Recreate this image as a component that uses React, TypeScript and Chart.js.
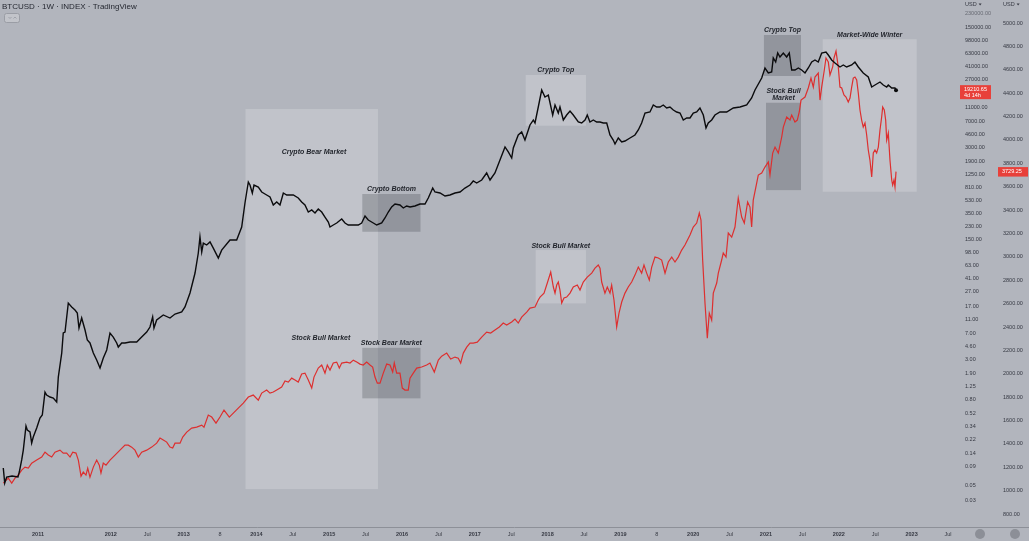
import React, { useEffect, useRef } from "react";
import { Chart, registerables } from "chart.js";

Chart.register(...registerables);

// ---------- data (decimal years, weekly closes) ----------
const btcYears = [
  2010.523, 2010.543, 2010.570, 2010.643, 2010.725, 2010.743, 2010.776, 2010.798, 2010.835, 2010.853,
  2010.890, 2010.913, 2010.935, 2010.982, 2011.027, 2011.059, 2011.096, 2011.119, 2011.165, 2011.210,
  2011.257, 2011.279, 2011.326, 2011.347, 2011.371, 2011.416, 2011.463, 2011.508, 2011.540, 2011.563,
  2011.600, 2011.646, 2011.677, 2011.714, 2011.760, 2011.806, 2011.852, 2011.897, 2011.944, 2011.989,
  2012.034, 2012.081, 2012.103, 2012.150, 2012.195, 2012.264, 2012.356, 2012.424, 2012.493, 2012.538,
  2012.575, 2012.593, 2012.630, 2012.721, 2012.813, 2012.882, 2012.974, 2013.019, 2013.088, 2013.157,
  2013.202, 2013.225, 2013.249, 2013.271, 2013.317, 2013.363, 2013.408, 2013.477, 2013.523, 2013.637,
  2013.729, 2013.798, 2013.843, 2013.889, 2013.912, 2013.944, 2013.967, 2014.026, 2014.073, 2014.141,
  2014.187, 2014.232, 2014.279, 2014.324, 2014.370, 2014.416, 2014.507, 2014.575, 2014.622, 2014.667,
  2014.713, 2014.760, 2014.805, 2014.850, 2014.897, 2014.942, 2014.988, 2015.011, 2015.056, 2015.103,
  2015.172, 2015.217, 2015.262, 2015.331, 2015.400, 2015.446, 2015.492, 2015.537, 2015.606, 2015.652,
  2015.721, 2015.766, 2015.812, 2015.858, 2015.904, 2015.972, 2016.018, 2016.064, 2016.110, 2016.178,
  2016.247, 2016.316, 2016.361, 2016.422, 2016.453, 2016.522, 2016.591, 2016.659, 2016.728, 2016.797,
  2016.865, 2016.934, 2016.979, 2017.026, 2017.095, 2017.163, 2017.209, 2017.277, 2017.346, 2017.415,
  2017.460, 2017.507, 2017.529, 2017.597, 2017.644, 2017.689, 2017.758, 2017.804, 2017.827, 2017.872,
  2017.919, 2017.964, 2018.010, 2018.070, 2018.102, 2018.147, 2018.170, 2018.216, 2018.262, 2018.308,
  2018.353, 2018.422, 2018.468, 2018.514, 2018.545, 2018.582, 2018.628, 2018.674, 2018.720, 2018.765,
  2018.812, 2018.857, 2018.902, 2018.926, 2018.971, 2019.018, 2019.063, 2019.132, 2019.200, 2019.246,
  2019.292, 2019.338, 2019.406, 2019.452, 2019.498, 2019.544, 2019.589, 2019.636, 2019.681, 2019.727,
  2019.773, 2019.819, 2019.864, 2019.911, 2019.956, 2020.001, 2020.048, 2020.093, 2020.139, 2020.176,
  2020.207, 2020.254, 2020.299, 2020.368, 2020.460, 2020.551, 2020.643, 2020.735, 2020.803, 2020.849,
  2020.941, 2020.986, 2021.032, 2021.078, 2021.100, 2021.133, 2021.161, 2021.192, 2021.238, 2021.284,
  2021.320, 2021.339, 2021.353, 2021.398, 2021.444, 2021.490, 2021.536, 2021.581, 2021.628, 2021.673,
  2021.718, 2021.765, 2021.824, 2021.856, 2021.902, 2021.948, 2022.016, 2022.062, 2022.108, 2022.177,
  2022.222, 2022.268, 2022.336, 2022.405, 2022.452, 2022.497, 2022.566, 2022.611, 2022.658, 2022.680,
  2022.727, 2022.772, 2022.786,
];
const btcPrices = [
  0.0869, 0.0533, 0.0648, 0.067, 0.0648, 0.0763, 0.113, 0.156, 0.341, 0.3,
  0.281, 0.196, 0.239, 0.32, 0.443, 0.489, 1.03, 0.937, 0.878, 0.85,
  0.746, 1.68, 3.68, 7.06, 7.29, 18.7, 16.5, 14.9, 13.5, 8.3,
  11.5, 7.78, 5.62, 5.1, 3.68, 2.93, 2.26, 3.13, 4.06, 7.06,
  6.19, 5.1, 4.47, 5.1, 5.1, 5.26, 5.26, 6.19, 7.29, 8.58,
  11.9, 8.3, 10.8, 12.7, 11.5, 13.1, 14.0, 16.5, 26.0, 49.8,
  95.5, 161, 98.7, 132, 124, 137, 112, 81.2, 105, 146,
  146, 223, 487, 965, 875, 674, 875, 820, 697, 632,
  592, 456, 503, 456, 674, 632, 632, 573, 503, 456,
  363, 388, 351, 401, 363, 308, 262, 223, 238, 254,
  289, 254, 238, 238, 238, 254, 319, 280, 254, 238,
  254, 299, 363, 428, 471, 456, 414, 442, 428, 442,
  471, 471, 573, 793, 697, 674, 611, 632, 674, 697,
  793, 875, 997, 934, 1030, 1294, 1030, 1294, 1977, 3019,
  2565, 2109, 2920, 4460, 4918, 3790, 6180, 7270, 6590, 11100,
  19310, 15380, 16410, 8550, 11850, 9130, 11100, 7270, 8550, 9750,
  8550, 6810, 6590, 7270, 8550, 6810, 7270, 6810, 6810, 6590,
  6590, 4460, 3790, 3327, 4046, 3550, 3667, 4046, 4460, 5250,
  6590, 9130, 9430, 11850, 11100, 11100, 11850, 10750, 11100, 10070,
  9430, 9130, 7270, 7760, 7760, 9130, 9430, 10750, 8550, 5600,
  6590, 7270, 8550, 9430, 9430, 10750, 11100, 11850, 14890, 19310,
  28520, 39540, 33590, 34690, 54750, 48080, 64430, 56550, 64430, 56550,
  64430, 46540, 37040, 37040, 39540, 37040, 33590, 39540, 48080, 51300,
  48080, 64430, 66550, 60370, 51300, 46540, 40850, 43600, 40850, 43600,
  48080, 40850, 33590, 29480, 21290, 22720, 25050, 22720, 21290, 22720,
  20600, 20600, 19210.65,
];

const spxYears = [
  2010.523, 2010.592, 2010.639, 2010.684, 2010.729, 2010.776, 2010.821, 2010.867, 2010.913, 2010.982,
  2011.051, 2011.096, 2011.141, 2011.188, 2011.233, 2011.302, 2011.347, 2011.394, 2011.440, 2011.477,
  2011.522, 2011.554, 2011.591, 2011.622, 2011.659, 2011.683, 2011.714, 2011.760, 2011.806, 2011.842,
  2011.865, 2011.897, 2011.934, 2011.989, 2012.058, 2012.126, 2012.195, 2012.240, 2012.287, 2012.332,
  2012.378, 2012.424, 2012.493, 2012.562, 2012.630, 2012.676, 2012.721, 2012.768, 2012.813, 2012.850,
  2012.882, 2012.951, 2012.988, 2013.043, 2013.111, 2013.180, 2013.249, 2013.280, 2013.339, 2013.386,
  2013.445, 2013.500, 2013.555, 2013.628, 2013.683, 2013.751, 2013.820, 2013.889, 2013.957, 2014.026,
  2014.073, 2014.141, 2014.187, 2014.232, 2014.279, 2014.347, 2014.393, 2014.438, 2014.485, 2014.530,
  2014.575, 2014.622, 2014.667, 2014.713, 2014.760, 2014.791, 2014.850, 2014.897, 2014.942, 2014.974,
  2015.011, 2015.056, 2015.103, 2015.139, 2015.172, 2015.240, 2015.286, 2015.331, 2015.378, 2015.423,
  2015.468, 2015.515, 2015.560, 2015.597, 2015.629, 2015.661, 2015.698, 2015.743, 2015.790, 2015.835,
  2015.872, 2015.894, 2015.927, 2015.972, 2016.004, 2016.041, 2016.086, 2016.110, 2016.155, 2016.202,
  2016.270, 2016.339, 2016.384, 2016.444, 2016.499, 2016.545, 2016.614, 2016.669, 2016.728, 2016.773,
  2016.806, 2016.842, 2016.889, 2016.934, 2016.979, 2017.034, 2017.095, 2017.163, 2017.218, 2017.277,
  2017.337, 2017.391, 2017.438, 2017.507, 2017.552, 2017.597, 2017.644, 2017.713, 2017.758, 2017.827,
  2017.872, 2017.896, 2017.951, 2017.996, 2018.043, 2018.079, 2018.102, 2018.125, 2018.147, 2018.170,
  2018.194, 2018.225, 2018.262, 2018.308, 2018.353, 2018.408, 2018.445, 2018.490, 2018.545, 2018.606,
  2018.651, 2018.696, 2018.720, 2018.743, 2018.788, 2018.820, 2018.857, 2018.880, 2018.912, 2018.949,
  2018.981, 2019.018, 2019.063, 2019.108, 2019.155, 2019.200, 2019.246, 2019.292, 2019.324, 2019.361,
  2019.397, 2019.430, 2019.475, 2019.521, 2019.567, 2019.613, 2019.658, 2019.705, 2019.750, 2019.795,
  2019.842, 2019.887, 2019.956, 2020.001, 2020.048, 2020.084, 2020.107, 2020.130, 2020.162, 2020.194,
  2020.221, 2020.254, 2020.276, 2020.323, 2020.345, 2020.391, 2020.413, 2020.451, 2020.482, 2020.529,
  2020.574, 2020.619, 2020.666, 2020.702, 2020.748, 2020.780, 2020.803, 2020.825, 2020.872, 2020.894,
  2020.941, 2020.986, 2021.032, 2021.055, 2021.092, 2021.124, 2021.169, 2021.216, 2021.238, 2021.284,
  2021.330, 2021.353, 2021.398, 2021.430, 2021.457, 2021.481, 2021.536, 2021.581, 2021.618, 2021.650,
  2021.673, 2021.718, 2021.742, 2021.765, 2021.797, 2021.824, 2021.856, 2021.879, 2021.916, 2021.934,
  2021.962, 2021.993, 2022.016, 2022.040, 2022.071, 2022.099, 2022.130, 2022.154, 2022.177, 2022.199,
  2022.222, 2022.246, 2022.268, 2022.291, 2022.314, 2022.336, 2022.360, 2022.383, 2022.405, 2022.428,
  2022.452, 2022.474, 2022.497, 2022.520, 2022.543, 2022.566, 2022.589, 2022.603, 2022.625, 2022.644,
  2022.658, 2022.680, 2022.703, 2022.727, 2022.740, 2022.758, 2022.772, 2022.786,
];
const spxPrices = [
  1065, 1108, 1065, 1108, 1134, 1176, 1202, 1193, 1236, 1262,
  1288, 1330, 1305, 1288, 1330, 1347, 1322, 1322, 1288, 1330,
  1322, 1262, 1125, 1159, 1134, 1193, 1116, 1202, 1262, 1219,
  1151, 1236, 1219, 1262, 1305, 1347, 1390, 1390, 1373, 1347,
  1288, 1330, 1347, 1373, 1407, 1450, 1433, 1416, 1373, 1365,
  1407, 1407, 1459, 1501, 1536, 1544, 1561, 1544, 1647, 1630,
  1578, 1630, 1690, 1630, 1664, 1707, 1749, 1801, 1818, 1775,
  1835, 1861, 1835, 1844, 1861, 1886, 1938, 1929, 1963, 1946,
  1929, 1998, 2006, 1946, 1878, 1972, 2049, 2075, 2006, 2075,
  2032, 2092, 2100, 2049, 2092, 2100, 2092, 2117, 2100, 2083,
  2075, 2100, 2075, 2058, 1972, 1920, 1920, 2006, 2083, 2075,
  2015, 2092, 2006, 2006, 1878, 1861, 1861, 1963, 2006, 2049,
  2058, 2075, 2092, 2015, 2117, 2151, 2177, 2126, 2143, 2134,
  2092, 2177, 2228, 2263, 2263, 2271, 2314, 2357, 2348, 2374,
  2400, 2434, 2417, 2443, 2468, 2434, 2485, 2528, 2562, 2571,
  2631, 2656, 2690, 2776, 2870, 2742, 2690, 2759, 2785, 2716,
  2605, 2648, 2656, 2690, 2742, 2759, 2716, 2785, 2827, 2861,
  2904, 2930, 2904, 2785, 2690, 2742, 2690, 2759, 2631, 2400,
  2519, 2614, 2690, 2742, 2785, 2844, 2913, 2861, 2930, 2861,
  2802, 2913, 2998, 2990, 2973, 2861, 2956, 2998, 2956, 2998,
  3058, 3101, 3187, 3255, 3289, 3375, 3315, 2973, 2605, 2305,
  2519, 2459, 2690, 2776, 2861, 2973, 3033, 2998, 3204, 3169,
  3255, 3503, 3340, 3289, 3469, 3426, 3255, 3486, 3631, 3700,
  3717, 3768, 3811, 3700, 3888, 3939, 3888, 4025, 4110, 4196,
  4170, 4213, 4153, 4170, 4239, 4341, 4367, 4444, 4529, 4452,
  4538, 4572, 4341, 4452, 4581, 4701, 4666, 4555, 4624, 4701,
  4760, 4624, 4452, 4444, 4384, 4367, 4324, 4358, 4452, 4529,
  4538, 4512, 4401, 4256, 4170, 4110, 4145, 4042, 3914, 3828,
  3683, 3888, 3914, 3888, 3939, 4085, 4196, 4281, 4256, 4170,
  3999, 4059, 3828, 3657, 3614, 3657, 3597, 3729.25,
];

const btcTickValues = [
  230000, 150000, 98000, 63000, 41000, 27000, 11000, 7000, 4600, 3000, 1900, 1250, 810, 530, 350, 230,
  150, 98, 63, 41, 27, 17, 11, 7, 4.6, 3, 1.9, 1.25, 0.8, 0.52, 0.34, 0.22, 0.14, 0.09, 0.05, 0.03,
];
const spxTickValues = [
  5000, 4800, 4600, 4400, 4200, 4000, 3800, 3600, 3400, 3200, 3000, 2800, 2600, 2400, 2200, 2000,
  1800, 1600, 1400, 1200, 1000, 800,
];
const timeTickValues = [
  2011, 2012, 2012.5, 2013, 2013.5, 2014, 2014.5, 2015, 2015.5, 2016, 2016.5, 2017, 2017.5,
  2018, 2018.5, 2019, 2019.5, 2020, 2020.5, 2021, 2021.5, 2022, 2022.5, 2023, 2023.5,
];
const timeTickLabels = [
  "2011", "2012", "Jul", "2013", "8", "2014", "Jul", "2015", "Jul", "2016", "Jul", "2017", "Jul",
  "2018", "Jul", "2019", "8", "2020", "Jul", "2021", "Jul", "2022", "Jul", "2023", "Jul",
];
const btcCountdown = "4d 14h";
const titleText = "BTCUSD · 1W · INDEX · TradingView";

// ---------- annotation zones (data coordinates) ----------
type Zone = { from: number; to: number; axis: "btc" | "spx"; high: number; low: number; tone: "light" | "dark"; label: string[] };
const zones: Zone[] = [
  { from: 2013.85, to: 2015.67, axis: "spx", high: 4264, low: 1014, tone: "light", label: [] },
  { from: 2015.455, to: 2016.254, axis: "btc", high: 653, low: 191, tone: "dark", label: ["Crypto Bottom"] },
  { from: 2015.455, to: 2016.254, axis: "spx", high: 2222, low: 1790, tone: "dark", label: ["Stock Bear Market"] },
  { from: 2017.699, to: 2018.527, axis: "btc", high: 31480, low: 6040, tone: "light", label: ["Crypto Top"] },
  { from: 2017.836, to: 2018.527, axis: "spx", high: 3058, low: 2602, tone: "light", label: ["Stock Bull Market"] },
  { from: 2020.972, to: 2021.481, axis: "btc", high: 115800, low: 30460, tone: "dark", label: ["Crypto Top"] },
  { from: 2021.0, to: 2021.481, axis: "spx", high: 4318, low: 3571, tone: "dark", label: ["Stock Bull", "Market"] },
  { from: 2021.779, to: 2023.07, axis: "spx", high: 4861, low: 3557, tone: "light", label: ["Market-Wide Winter"] },
];
const freeLabels = [
  { text: "Crypto Bear Market", at: 2014.791, axis: "btc", value: 2565 },
  { text: "Stock Bull Market", at: 2014.887, axis: "spx", value: 2305 },
];

const BG = "#b2b5bd";
const TEXT = "#363943";
const FONT = '"Liberation Sans", Arial, sans-serif';
const RED = "#dd2f2f";

const overlayPlugin = {
  id: "overlay",
  beforeDatasetsDraw(chart: any) {
    const { ctx, scales } = chart;
    const xs = scales.x;
    ctx.save();
    for (const z of zones) {
      const ys = z.axis === "btc" ? scales.yBtc : scales.ySpx;
      const l = xs.getPixelForValue(z.from);
      const r = xs.getPixelForValue(z.to);
      const t = ys.getPixelForValue(z.high);
      const b = ys.getPixelForValue(z.low);
      ctx.fillStyle = z.tone === "light" ? "rgba(255,255,255,0.2)" : "rgba(60,62,70,0.27)";
      ctx.fillRect(l, t, r - l, b - t);
    }
    ctx.font = `italic bold 7px ${FONT}`;
    ctx.fillStyle = "#1f2229";
    ctx.textAlign = "center";
    ctx.textBaseline = "middle";
    for (const z of zones) {
      if (!z.label.length) continue;
      const ys = z.axis === "btc" ? scales.yBtc : scales.ySpx;
      const cx = (xs.getPixelForValue(z.from) + xs.getPixelForValue(z.to)) / 2;
      const t = ys.getPixelForValue(z.high);
      const n = z.label.length;
      z.label.forEach((line, i) => {
        ctx.fillText(line, cx, t - 4.5 - (n - 1 - i) * 7);
      });
    }
    for (const f of freeLabels) {
      const ys = f.axis === "btc" ? scales.yBtc : scales.ySpx;
      ctx.fillText(f.text, xs.getPixelForValue(f.at), ys.getPixelForValue(f.value));
    }
    ctx.restore();
  },
  afterDraw(chart: any) {
    const { ctx, scales, chartArea, width } = chart;
    ctx.save();
    // bottom separator
    ctx.strokeStyle = "#8d9098";
    ctx.lineWidth = 1;
    ctx.beginPath();
    ctx.moveTo(0, chartArea.bottom + 0.5);
    ctx.lineTo(width, chartArea.bottom + 0.5);
    ctx.stroke();

    // title
    ctx.font = `8px ${FONT}`;
    ctx.fillStyle = "#262932";
    ctx.textAlign = "left";
    ctx.textBaseline = "middle";
    ctx.fillText(titleText, 2, 7);

    // small toggle button
    ctx.fillStyle = "#c2c4ca";
    ctx.strokeStyle = "#9a9da5";
    ctx.beginPath();
    (ctx as any).roundRect(4.5, 13.5, 15, 9, 2);
    ctx.fill();
    ctx.stroke();
    ctx.strokeStyle = "#9fa2aa";
    ctx.beginPath();
    ctx.moveTo(8.5, 17);
    ctx.lineTo(10, 18.5);
    ctx.lineTo(11.5, 17);
    ctx.moveTo(13.5, 18.5);
    ctx.lineTo(15, 17);
    ctx.lineTo(16.5, 18.5);
    ctx.stroke();

    // currency labels
    ctx.font = `5.5px ${FONT}`;
    ctx.fillStyle = TEXT;
    const usd = (x: number) => {
      ctx.fillText("USD", x, 4.5);
      const w = ctx.measureText("USD").width;
      ctx.beginPath();
      ctx.moveTo(x + w + 2, 3.5);
      ctx.lineTo(x + w + 5, 3.5);
      ctx.lineTo(x + w + 3.5, 5.5);
      ctx.closePath();
      ctx.fill();
    };
    usd(scales.yBtc.left + 5);
    usd(scales.ySpx.left + 5);

    // last-price labels
    const btcLast = btcPrices[btcPrices.length - 1];
    const spxLast = spxPrices[spxPrices.length - 1];
    const yb = scales.yBtc.getPixelForValue(btcLast);
    ctx.fillStyle = "#e8403a";
    ctx.fillRect(scales.yBtc.left, yb - 5, 31, 14);
    ctx.fillStyle = "#ffffff";
    ctx.font = `5.5px ${FONT}`;
    ctx.fillText(btcLast.toFixed(2), scales.yBtc.left + 4, yb - 0.5);
    ctx.fillText(btcCountdown, scales.yBtc.left + 4, yb + 5);
    const ysp = scales.ySpx.getPixelForValue(spxLast);
    ctx.fillStyle = "#e8403a";
    ctx.fillRect(scales.ySpx.left, ysp - 4.5, 30, 9.5);
    ctx.fillStyle = "#ffffff";
    ctx.fillText(spxLast.toFixed(2), scales.ySpx.left + 4, ysp + 0.3);

    // bottom-right circles
    ctx.fillStyle = "#8c8f97";
    [980, 1015].forEach((cx) => {
      ctx.beginPath();
      ctx.arc(cx, 534, 5, 0, Math.PI * 2);
      ctx.fill();
    });
    ctx.restore();
  },
};

export default function App() {
  const ref = useRef<HTMLCanvasElement>(null);
  useEffect(() => {
    document.body.style.margin = "0";
    document.body.style.background = BG;
    const canvas = ref.current!;
    const chart = new Chart(canvas, {
      type: "line",
      data: {
        datasets: [
          {
            label: "BTCUSD",
            data: btcYears.map((x, i) => ({ x, y: btcPrices[i] })),
            yAxisID: "yBtc",
            borderColor: "#0b0b0d",
            backgroundColor: "#0b0b0d",
            borderWidth: 1.4,
            pointRadius: (c: any) => (c.dataIndex === btcYears.length - 1 ? 2 : 0),
            pointBackgroundColor: "#0b0b0d",
            pointBorderWidth: 0,
            tension: 0,
            order: 1,
          },
          {
            label: "SPX",
            data: spxYears.map((x, i) => ({ x, y: spxPrices[i] })),
            yAxisID: "ySpx",
            borderColor: RED,
            borderWidth: 1.2,
            pointRadius: 0,
            tension: 0,
            order: 2,
          },
        ],
      },
      options: {
        responsive: false,
        animation: false,
        devicePixelRatio: 1,
        events: [],
        layout: { padding: 0, autoPadding: false },
        plugins: { legend: { display: false }, tooltip: { enabled: false } },
        scales: {
          x: {
            type: "linear",
            position: "bottom",
            min: 2010.478,
            max: 2023.665,
            grid: { display: false, drawTicks: false },
            border: { display: false },
            afterBuildTicks: (s: any) => {
              s.ticks = timeTickValues.map((v) => ({ value: v }));
            },
            afterFit: (s: any) => {
              s.height = 14;
              s.paddingLeft = 0;
              s.paddingRight = 0;
            },
            ticks: {
              autoSkip: false,
              maxRotation: 0,
              minRotation: 0,
              padding: 4,
              color: TEXT,
              font: (c: any) => ({
                family: FONT,
                size: 5.5,
                weight: /^\d{4}$/.test(timeTickLabels[c.index] || "") ? "bold" : "normal",
              }),
              callback: (v: any) => timeTickLabels[timeTickValues.indexOf(Number(v))] ?? "",
            },
          },
          yBtc: {
            type: "logarithmic",
            position: "right",
            weight: 0,
            min: 0.01273,
            max: 362000,
            grid: { display: false, drawTicks: false },
            border: { display: false },
            afterBuildTicks: (s: any) => {
              s.ticks = btcTickValues.map((v) => ({ value: v }));
            },
            afterFit: (s: any) => {
              s.width = 38;
              s.paddingTop = 0;
              s.paddingBottom = 0;
            },
            ticks: {
              autoSkip: false,
              padding: 5,
              color: (c: any) => (c.index === 0 ? "#676a73" : TEXT),
              font: { family: FONT, size: 5.5 },
              callback: (v: any) => Number(v).toFixed(2),
            },
          },
          ySpx: {
            type: "linear",
            position: "right",
            weight: 1,
            min: 689.8,
            max: 5196.7,
            grid: { display: false, drawTicks: false },
            border: { display: false },
            afterBuildTicks: (s: any) => {
              s.ticks = spxTickValues.map((v) => ({ value: v }));
            },
            afterFit: (s: any) => {
              s.width = 31;
              s.paddingTop = 0;
              s.paddingBottom = 0;
            },
            ticks: {
              autoSkip: false,
              padding: 5,
              color: TEXT,
              font: { family: FONT, size: 5.5 },
              callback: (v: any) => Number(v).toFixed(2),
            },
          },
        },
      },
      plugins: [overlayPlugin],
    } as any);
    return () => chart.destroy();
  }, []);
  return (
    <div style={{ position: "fixed", left: 0, top: 0, width: 1029, height: 541, background: BG }}>
      <canvas ref={ref} width={1029} height={541} style={{ display: "block", width: 1029, height: 541 }} />
    </div>
  );
}
